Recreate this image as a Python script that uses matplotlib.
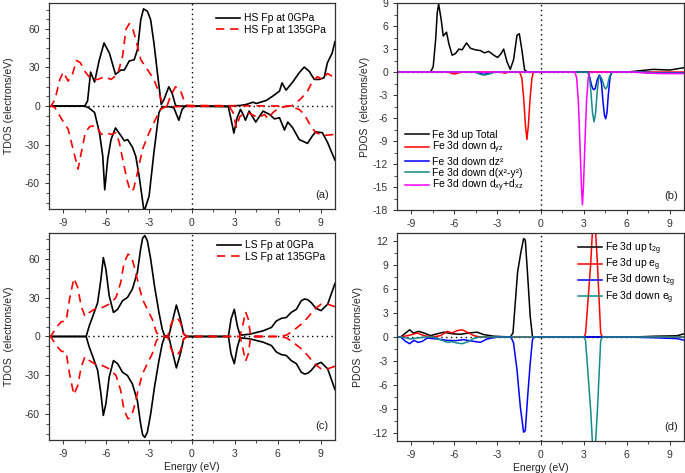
import numpy as np
import matplotlib
matplotlib.use("Agg")
import matplotlib.pyplot as plt
from matplotlib.ticker import MultipleLocator

plt.rcParams['font.family'] = ['Liberation Sans', 'DejaVu Sans']
plt.rcParams['mathtext.fontset'] = 'custom'
plt.rcParams['mathtext.rm'] = 'Liberation Sans'
plt.rcParams['mathtext.it'] = 'Liberation Sans'
plt.rcParams['axes.unicode_minus'] = False

# ---------------- (a) HS Fp ----------------
a_hs0_up_x = [-10, -7.5, -7.3, -7.09, -6.81, -6.5, -6.15, -5.77, -5.35, -4.97, -4.73, -4.39, -4.04, -3.81,
              -3.58, -3.39, -3.12, -2.89, -2.66, -2.42, -2.15, -1.96, -1.62, -1.39, -1.15, -0.9,
              2.6, 3.4, 3.81, 4.27, 4.5, 5.2, 5.66, 6.12, 6.3, 6.58, 7.04, 7.5, 7.85, 8.2, 8.55,
              8.9, 9.24, 9.47, 9.8, 10]
a_hs0_up_y = [0, 0, 4, 26.4, 18.6, 35, 49, 41, 24.6, 28, 28, 35, 36, 44,
              67, 75.5, 73.7, 67, 49, 26, 1.3, 5, 15, 10, 0.5, 0,
              0, 0.5, 1.3, 3, 2, 4.4, 7.8, 11.6, 18, 12.4, 18.6, 25.9, 30.3, 27, 20.7,
              20.7, 22, 33.6, 41, 50]
a_hs0_dn_x = [-10, -7.5, -7.2, -6.81, -6.47, -6.24, -6.1, -5.89, -5.66, -5.35, -4.97, -4.73, -4.5, -4.16,
              -3.93, -3.7, -3.35, -3.0, -2.66, -2.31, -2.08, -1.6, -1.27, -0.92, -0.69, -0.46,
              2.54, 2.73, 2.93, 3.16, 3.39, 3.58, 3.74, 4.0, 4.46, 4.97, 5.43, 5.77, 6.12, 6.47,
              6.7, 7.04, 7.5, 8.08, 8.43, 8.66, 9.12, 9.47, 10]
a_hs0_dn_y = [0, 0, -1.5, -5, -20.7, -38.8, -65, -41, -26, -17, -23, -27, -26, -32,
              -39, -54, -82, -70, -36, -5, -0.5, -0.5, -1.3, -11, -2.6, 0,
              -0.5, -10, -21, -9, -2.6, -6.5, -11, -3.9, -12.4, -3.9, -6.5, -10, -9, -18.6,
              -12.4, -16.8, -26, -29, -23, -20, -20.7, -28, -42]
a_hs135_up_x = [-10, -9.86, -9.58, -9.24, -9.0, -8.66, -8.38, -8.08, -7.8, -7.5, -7.04, -6.58, -6.12,
                -5.66, -5.2, -4.85, -4.62, -4.39, -4.16, -3.93, -3.58, -3.12, -2.66, -2.31, -2.08,
                -1.73, -1.5, -1.15, -0.81, -0.58, -0.35, 6.8, 7.04, 7.62, 8.08, 8.43, 8.78, 9.12, 9.47, 10]
a_hs135_up_y = [0, 0, 5, 20.7, 26.4, 19.4, 23.8, 35.4, 33.6, 27, 20.7, 20.7, 22.8,
                20.7, 24.6, 38.8, 59.5, 64, 60.8, 51.7, 36, 28.4, 20.7, 10.3, 2.6,
                0.5, 7.8, 15, 12.4, 5, 0.5, 0, 0.5, 5.7, 11.6, 19.4, 22.8, 20.7, 25.3, 22]
a_hs135_dn_x = [-10, -9.86, -9.58, -9.12, -8.66, -8.31, -7.97, -7.74, -7.46, -7.16, -6.7, -6.35, -6.0,
                -5.66, -5.31, -5.08, -4.85, -4.55, -4.32, -4.09, -3.81, -3.46, -3.0, -2.54, -2.19,
                -1.85, 2.6, 2.87, 3.1, 3.35, 3.58, 4.0, 4.62, 5.08, 5.31, 5.66, 6.12, 6.8, 7.5,
                7.85, 8.31, 8.66, 9.24, 10]
a_hs135_dn_y = [0, 0, -1.3, -10, -18, -33.6, -49, -36, -20.7, -16, -15, -22, -20.7,
                -22, -20.7, -28.4, -41, -57, -66, -64.7, -51.7, -33.6, -20.7, -10, -2.6,
                -0.5, 0, -5, -16.5, -8, -6.5, -5.5, -9, -6.5, -10, -5, -1.3, 0, -2.6,
                -6.5, -15.5, -20.7, -22.8, -22]

# ---------------- (c) LS Fp (spin up; spin down is the mirror) ----------------
c_ls0_x = [-10, -7.4, -7.18, -6.88, -6.6, -6.37, -6.2, -6.02, -5.79, -5.49, -5.2, -4.86, -4.51, -4.17,
           -3.82, -3.59, -3.45, -3.3, -3.12, -2.89, -2.62, -2.31, -2.08, -1.92, -1.62, -1.39, -1.09,
           -0.81, -0.58, -0.35, 2.55, 2.73, 2.96, 3.17, 3.36, 4.05, 4.98, 5.56, 5.9, 6.25, 6.6,
           6.94, 7.3, 7.64, 7.87, 8.1, 8.33, 8.68, 9.03, 9.49, 10]
c_ls0_y = [0, 0, 8.3, 17.3, 26, 44, 61, 52, 31.5, 18.6, 21, 27.6, 30.2, 36.6,
           49.5, 67.6, 76, 78, 74, 60, 39, 18.6, 5.7, 0.5, 0.5, 10.8, 24.3,
           13.4, 1.8, 0, 0, 13.4, 21, 8.3, 1, 1.8, 4.4, 7, 12, 14, 14.7,
           18.6, 21, 27.6, 29, 28.4, 26.3, 21.7, 20, 25, 41]
c_ls135_x = [-10, -9.88, -9.49, -9.14, -8.8, -8.56, -8.26, -7.99, -7.75, -7.48, -7.18, -6.71, -6.25,
             -5.79, -5.32, -4.98, -4.75, -4.47, -4.24, -4.05, -3.77, -3.47, -3.12, -2.78, -2.48,
             -2.2, -1.7, -1.5, -1.27, -1.04, -0.81, -0.58, -0.35, 3.36, 3.54, 3.75, 3.94, 4.1,
             6.0, 6.6, 7.06, 7.64, 8.1, 8.56, 9.03, 9.49, 10]
c_ls135_y = [0, 0, 7, 11.4, 12, 29, 45, 38, 23.7, 15.5, 18.6, 21.7, 22.5,
             25, 30, 41.8, 57, 63.7, 62, 54.7, 41.8, 29, 21, 13.4, 3,
             0.5, 0, 8.3, 14, 14.7, 10.8, 1.8, 0, 0, 8.3, 19, 13.4, 0.5,
             0, 1, 4.4, 9.5, 14.7, 21, 25, 25, 23]

# ---------------- (b) Fe 3d PDOS, HS ----------------
b_tot_x = [-10, -7.66, -7.48, -7.31, -7.2, -7.1, -6.92, -6.78, -6.55, -6.39, -6.16, -5.93, -5.69, -5.46,
           -5.16, -4.88, -4.54, -4.19, -3.91, -3.61, -3.26, -2.99, -2.75, -2.57, -2.34, -2.11, -1.88,
           -1.64, -1.48, -1.3, -1.11, -0.9, 6.0, 6.9, 7.85, 9.0, 10]
b_tot_y = [0, 0, 0.7, 4.2, 7.7, 8.9, 6.8, 4.7, 5.2, 3.7, 2.2, 2.4, 3.0, 2.9,
           3.8, 3.1, 2.9, 2.8, 2.5, 2.7, 2.2, 1.9, 2.4, 3.0, 1.35, 0.35, 1.6,
           4.8, 5.0, 2.9, 0.26, 0, 0, 0.17, 0.35, 0.26, 0.57]
b_dyz_x = [-10, -6.5, -6.0, -5.5, -2.8, -2.5, -2.2, -1.45, -1.3, -1.17, -1.05, -0.95, -0.85, -0.73,
           -0.6, -0.5, 10]
b_dyz_y = [0, 0, -0.26, 0, 0, -0.15, 0, 0, -0.8, -3.5, -7.0, -8.8, -7.0, -3.5, -0.8, 0, 0]
b_dz2_x = [-10, -4.4, -4.0, -3.6, -3.2, 3.3, 3.42, 3.55, 3.65, 3.73, 3.82, 3.95, 4.1, 4.15, 4.25, 4.35,
           4.45, 4.54, 4.63, 4.73, 4.85, 4.97, 7.0, 8.0, 10]
b_dz2_y = [0, 0, -0.3, -0.2, 0, 0, -0.6, -1.7, -2.2, -2.3, -2.1, -1.0, -0.4, -0.5, -1.5, -3.8,
           -5.6, -6.1, -5.3, -2.8, -0.6, 0, 0, -0.1, -0.1]
b_dx2y2_x = [-10, -4.6, -4.2, -3.9, -3.5, -3.2, 3.3, 3.42, 3.52, 3.62, 3.73, 3.84, 3.95, 4.05, 4.15,
             4.3, 4.45, 4.54, 4.65, 4.8, 4.95, 7.0, 8.0, 10]
b_dx2y2_y = [0, 0, -0.3, -0.4, -0.2, 0, 0, -0.8, -2.8, -5.3, -6.5, -5.3, -2.5, -0.9, -0.5,
             -1.0, -2.0, -2.2, -1.9, -0.6, 0, 0, -0.15, -0.15]
b_dxy_x = [-10, 2.4, 2.52, 2.64, 2.75, 2.85, 2.92, 2.99, 3.09, 3.2, 3.32, 3.44, 6.5, 7.5, 8.5, 10]
b_dxy_y = [0, 0, -0.8, -4, -9.5, -15, -17.3, -15, -9.5, -4, -0.8, 0, 0, -0.15, -0.2, -0.2]

# ---------------- (d) Fe 3d PDOS, LS ----------------
d_up_t2g_x = [-10, -9.75, -9.4, -9.12, -8.87, -8.47, -8.13, -7.66, -7.2, -6.74, -6.16, -5.58, -5.0,
              -4.42, -3.96, -3.26, -2.1, -1.92, -1.76, -1.6, -1.37, -1.18, -1.06, -0.88, -0.72,
              -0.56, 6.5, 8.0, 9.5, 10]
d_up_t2g_y = [0, 0, 0.5, 0.9, 0.5, 0.7, 0.5, 0.17, 0.4, 0.6, 0.4, 0.34, 0.5,
              0.6, 0.3, 0.1, 0, 0.5, 4.3, 8.1, 10.6, 12.3, 12.1, 7.2, 2.6,
              0, 0, 0.1, 0.15, 0.4]
d_up_eg_x = [-10, -9.75, -9.05, -8.6, -8.13, -7.5, -6.97, -6.5, -6.16, -5.81, -5.46, -5.0, -4.65,
             -4.2, 3.05, 3.14, 3.33, 3.5, 3.61, 3.72, 3.84, 3.96, 4.07, 4.19, 4.3, 10]
d_up_eg_y = [0, 0, 0.25, 0.5, 0.17, 0, 0.17, 0.7, 0.5, 0.8, 0.9, 0.5, 0.17,
             0, 0, 0.5, 5.1, 9.3, 13, 19, 13, 9.3, 5.1, 0.5, 0, 0]
d_dn_t2g_x = [-10, -9.75, -9.4, -9.12, -8.82, -8.54, -8.24, -7.9, -7.2, -6.5, -5.93, -5.35, -4.65,
              -4.19, -3.73, -3.0, -2.06, -1.88, -1.64, -1.41, -1.18, -1.06, -0.9, -0.72, -0.56,
              -0.45, 6.0, 8.0, 9.5, 10]
d_dn_t2g_y = [0, 0, -0.55, -0.84, -0.42, -0.67, -0.55, -0.13, -0.25, -0.42, -0.46, -0.34, -0.55,
              -0.67, -0.25, 0, 0, -0.75, -4.1, -8.7, -11.9, -11.7, -7.5, -3.3, -0.3,
              0, 0, -0.1, -0.2, -0.4]
d_dn_eg_x = [-10, -9.75, -9.05, -8.6, -8.0, -7.5, -6.97, -6.5, -6.16, -5.81, -5.46, -5.0, -4.65,
             -4.2, 3.05, 3.14, 3.33, 3.5, 3.61, 3.72, 3.84, 3.96, 4.07, 4.19, 4.3, 10]
d_dn_eg_y = [0, 0, -0.25, -0.13, 0, 0, -0.34, -0.67, -0.6, -0.75, -0.84, -0.55, -0.17,
             0, 0, -0.5, -5.1, -9.3, -13, -19, -13, -9.3, -5.1, -0.5, 0, 0]

x_ticks = [-9, -6, -3, 0, 3, 6, 9]
tdos_ticks = [-60, -30, 0, 30, 60]
pdos_b_ticks = [-18, -15, -12, -9, -6, -3, 0, 3, 6, 9]
pdos_d_ticks = [-12, -9, -6, -3, 0, 3, 6, 9, 12]

TEAL = '#158a8a'
DASH = (0, (5, 3.5))
FS = 7.5


def estilo(ax, yticks, ylim, ymin_step, panel):
    ax.set_xlim(-10, 10)
    ax.set_ylim(*ylim)
    ax.set_xticks(x_ticks)
    ax.set_yticks(yticks)
    ax.xaxis.set_minor_locator(MultipleLocator(1.5))
    ax.yaxis.set_minor_locator(MultipleLocator(ymin_step))
    ax.tick_params(which='both', direction='out', labelsize=FS, colors='#333333',
                   top=False, right=False)
    ax.tick_params(which='major', length=3, width=0.7)
    ax.tick_params(which='minor', length=2, width=0.6)
    for s in ax.spines.values():
        s.set_color('#333333')
        s.set_linewidth(0.9)
    ax.axhline(0, color='black', lw=1.0, ls=(0, (1, 2.5)), zorder=0.5)
    ax.axvline(0, color='black', lw=1.0, ls=(0, (1, 2.5)), zorder=0.5)
    ax.text(0.955, 0.045, panel, transform=ax.transAxes, ha='center', va='bottom',
            fontsize=8, color='#222222')


fig = plt.figure(figsize=(6.85, 4.73), dpi=100)
ax_a = fig.add_axes([0.0715, 0.558, 0.4175, 0.4355])
ax_b = fig.add_axes([0.5796, 0.556, 0.419, 0.4375])
ax_c = fig.add_axes([0.0715, 0.0698, 0.4175, 0.4376])
ax_d = fig.add_axes([0.5796, 0.0677, 0.419, 0.4397])

# (a)
ax_a.plot(a_hs0_up_x, a_hs0_up_y, color='black', lw=1.2, label='HS Fp at 0GPa')
ax_a.plot(a_hs0_dn_x, a_hs0_dn_y, color='black', lw=1.2)
ax_a.plot(a_hs135_up_x, a_hs135_up_y, color='red', lw=1.2, ls=DASH, label='HS Fp at 135GPa')
ax_a.plot(a_hs135_dn_x, a_hs135_dn_y, color='red', lw=1.2, ls=DASH)
estilo(ax_a, tdos_ticks, (-80, 80), 7.5, '(a)')
ax_a.set_ylabel('TDOS (electrons/eV)', fontsize=FS, color='#222222')
ax_a.yaxis.set_label_coords(-0.124, 0.5)
ax_a.legend(loc='upper right', bbox_to_anchor=(1.0, 0.995), frameon=False, fontsize=FS,
            handlelength=2.3, labelspacing=0.15, handletextpad=0.4)

# (c)
ax_c.plot(c_ls0_x, c_ls0_y, color='black', lw=1.2, label='LS Fp at 0GPa')
ax_c.plot(c_ls0_x, -np.array(c_ls0_y), color='black', lw=1.2)
ax_c.plot(c_ls135_x, c_ls135_y, color='red', lw=1.2, ls=DASH, label='LS Fp at 135GPa')
ax_c.plot(c_ls135_x, -np.array(c_ls135_y), color='red', lw=1.2, ls=DASH)
estilo(ax_c, tdos_ticks, (-80, 80), 7.5, '(c)')
ax_c.set_ylabel('TDOS  (electrons/eV)', fontsize=FS, color='#222222')
ax_c.yaxis.set_label_coords(-0.124, 0.5)
ax_c.set_xlabel('Energy (eV)', fontsize=FS, color='#222222')
ax_c.xaxis.set_label_coords(0.5, -0.105)
ax_c.legend(loc='upper right', bbox_to_anchor=(1.0, 1.01), frameon=False, fontsize=FS,
            handlelength=2.3, labelspacing=0.15, handletextpad=0.4)

# (b)
ax_b.plot(b_tot_x, b_tot_y, color='black', lw=1.1, label='Fe 3d up Total')
ax_b.plot(b_dyz_x, b_dyz_y, color='red', lw=1.1, label='Fe 3d down d$_{yz}$')
ax_b.plot(b_dz2_x, b_dz2_y, color='blue', lw=1.1, label='Fe 3d down dz\u00b2')
ax_b.plot(b_dx2y2_x, b_dx2y2_y, color=TEAL, lw=1.1, label='Fe 3d down d(x\u00b2-y\u00b2)')
ax_b.plot(b_dxy_x, b_dxy_y, color='magenta', lw=1.1, label='Fe 3d down d$_{xy}$+d$_{xz}$')
estilo(ax_b, pdos_b_ticks, (-18, 9), 1.5, '(b)')
ax_b.set_ylabel('PDOS  (electrons/eV)', fontsize=FS, color='#222222')
ax_b.yaxis.set_label_coords(-0.094, 0.5)
ax_b.legend(loc='lower left', bbox_to_anchor=(-0.005, 0.03), frameon=False, fontsize=FS,
            handlelength=2.3, labelspacing=0.05, handletextpad=0.3)

# (d)
ax_d.plot(d_up_t2g_x, d_up_t2g_y, color='black', lw=1.1, label='Fe 3d up t$_{2g}$')
ax_d.plot(d_up_eg_x, d_up_eg_y, color='red', lw=1.1, label='Fe 3d up e$_{g}$')
ax_d.plot(d_dn_t2g_x, d_dn_t2g_y, color='blue', lw=1.1, label='Fe 3d down t$_{2g}$')
ax_d.plot(d_dn_eg_x, d_dn_eg_y, color=TEAL, lw=1.1, label='Fe 3d down e$_{g}$')
estilo(ax_d, pdos_d_ticks, (-13, 13), 1.5, '(d)')
ax_d.set_ylabel('PDOS  (electrons/eV)', fontsize=FS, color='#222222')
ax_d.yaxis.set_label_coords(-0.118, 0.5)
ax_d.set_xlabel('Energy (eV)', fontsize=FS, color='#222222')
ax_d.xaxis.set_label_coords(0.5, -0.105)
ax_d.legend(loc='upper right', bbox_to_anchor=(1.0, 1.01), frameon=False, fontsize=FS,
            handlelength=2.3, labelspacing=0.0, handletextpad=0.3)

fig.savefig('out.png', dpi=100)
